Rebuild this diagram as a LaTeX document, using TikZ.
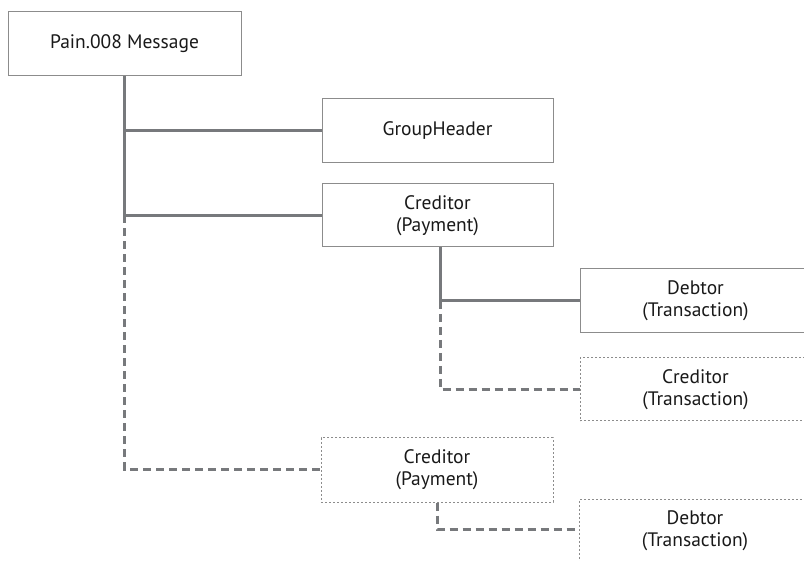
\documentclass[tikz,border=0pt]{standalone}
\usepackage{fontspec}
\setmainfont{PT Sans}
\begin{document}
\begin{tikzpicture}[x=1pt,y=-1pt,
  box/.style={draw=boxgray,line width=1pt,minimum width=231pt,minimum height=64pt,inner sep=0pt,align=center,font=\fontsize{19.5}{22}\selectfont,text=black!90},
  optbox/.style={box,dash pattern=on 2pt off 2pt},
  conn/.style={draw=linegray,line width=3pt},
  optconn/.style={conn,dash pattern=on 8pt off 5pt}]
\definecolor{boxgray}{HTML}{8C8C8C}
\definecolor{linegray}{HTML}{77797C}
\useasboundingbox (0,0) rectangle (804,561);
\clip (0,0) rectangle (804,561);
\node[box,minimum width=233pt] (msg) at (124.5,44) {Pain.008 Message};
\node[box] (gh) at (437.5,131) {GroupHeader};
\node[box,minimum height=63pt] (cp1) at (437.5,215.5) {Creditor\\(Payment)};
\node[box] (dt1) at (695.5,301) {Debtor\\(Transaction)};
\node[optbox,minimum height=63pt] (ct1) at (695.5,389.5) {Creditor\\(Transaction)};
\node[optbox,minimum width=232pt] (cp2) at (437,470) {Creditor\\(Payment)};
\node[optbox] (dt2) at (695,531) {Debtor\\(Transaction)};
\coordinate (a) at (msg.south |- gh.west);
\coordinate (b) at (msg.south |- cp1.west);
\coordinate (c) at ([xshift=2.5pt]cp1.south |- dt1.west);
\coordinate (cs) at ([xshift=2.5pt]cp1.south);
\draw[conn] (msg.south) -- (a) -- (gh.west);
\draw[conn] (a) -- (b) -- (cp1.west);
\draw[optconn] (b) -- (msg.south |- cp2.west) -- (cp2.west);
\draw[conn] (cs) -- (c) -- (dt1.west);
\draw[optconn] (c) -- (cs |- ct1.west) -- (ct1.west);
\coordinate (d) at (cp2.south |- 0,529);
\draw[optconn] (cp2.south) -- (d) -- (dt2.west |- d);
\end{tikzpicture}
\end{document}
